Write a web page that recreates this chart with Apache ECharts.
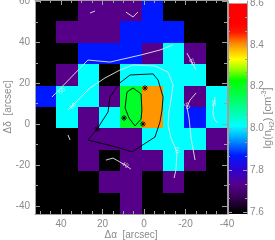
<!DOCTYPE html>
<html><head><meta charset="utf-8">
<script src="https://cdn.jsdelivr.net/npm/echarts@6/dist/echarts.min.js"></script>
<style>html,body{margin:0;padding:0;background:#fff;}#c{width:275px;height:240px;}</style>
</head><body><div id="c"></div>
<script>
// ---------- data ----------
const xCenters = [47.4, 37.1, 26.8, 16.5, 6.3, -4.0, -14.3, -24.6, -34.9];
const yCenters = [55.6, 45.1, 34.6, 24.1, 13.6, 3.2, -7.3, -17.8, -28.3, -38.8];
const lgN = [
  [7.60, 7.60, 7.73, 7.73, 7.73, 7.87, 7.60, 7.60, 7.60],
  [7.60, 7.73, 7.73, 7.73, 7.87, 7.87, 7.87, 7.60, 7.60],
  [7.60, 7.60, 7.87, 7.87, 7.87, 7.73, 8.01, 7.73, 7.60],
  [7.60, 7.73, 8.01, 7.60, 8.01, 8.01, 8.01, 8.01, 7.60],
  [7.87, 8.01, 8.01, 7.73, 8.19, 8.40, 8.01, 7.73, 8.01],
  [7.60, 8.01, 7.73, 8.01, 8.19, 8.40, 8.01, 7.87, 8.01],
  [7.60, 7.60, 7.73, 7.73, 7.73, 8.01, 8.01, 8.01, 7.73],
  [7.60, 7.60, 7.73, 7.60, 7.73, 7.73, 8.01, 7.73, 7.60],
  [7.60, 7.60, 7.60, 7.73, 7.73, 7.60, 7.73, 7.60, 7.60],
  [7.60, 7.60, 7.60, 7.60, 7.73, 7.60, 7.60, 7.60, 7.60]
];
const xTicks = [40, 20, 0, -20, -40];
const xMinorTicks = [50, 45, 35, 30, 25, 15, 10, 5, -5, -10, -15, -25, -30, -35];
const yTicks = [60, 40, 20, 0, -20, -40];
const yMinorTicks = [50, 30, 10, -10, -30];
const cbTicks = [7.6, 7.8, 8.0, 8.2, 8.4, 8.6];
const cbMinorTicks = [7.667, 7.733, 7.867, 7.933, 8.067, 8.133, 8.267, 8.333, 8.467, 8.533];
const cbRange = [7.59, 8.61];
const xName = 'Δα  [arcsec]';
const yName = 'Δδ  [arcsec]';

const whiteContours = [
  [[44.3,13.3],[27.0,31.4],[16.4,30.4],[1.4,33.9],[-7.7,36.3],[-14.0,38.8]],
  [[36.6,6.9],[26.0,17.7],[18.8,22.6],[11.6,26.5],[5.3,29.0],[-5.3,28.5],[-11.6,25.5],[-14.0,19.2],[-13.0,11.8],[-12.0,6.0],[-11.6,-0.4],[-13.0,-6.8],[-15.9,-13.6],[-15.4,-22.4],[-14.5,-26.4]],
  [[-20.7,34.8],[-25.1,26.5]],
  [[-25.1,15.3],[-22.2,11.8],[-20.7,8.4],[-21.7,3.0],[-22.7,-6.8],[-24.6,-17.6]],
  [[-34.2,13.3],[-33.3,6.9],[-33.3,4.5],[-34.2,2.0],[-35.7,0.6]],
  [[36.6,-5.3],[35.6,-7.8]],
  [[18.3,-17.6],[14.9,-16.6],[9.1,-20.0],[6.3,-22.0]],
  [[26.0,54.4],[23.6,55.4]],
  [[8.7,54.9],[5.3,52.5],[2.9,54.9]]
];
const blackContours = [
  [[22.6,-2.4],[17.3,6.0],[16.4,13.3],[11.6,20.2],[6.7,24.1],[-4.4,24.6],[-6.8,21.6],[-9.2,13.3],[-8.7,6.9],[-7.7,1.0],[-5.3,-6.3],[5.8,-13.6],[11.6,-11.7],[21.2,-9.2],[27.0,-7.8],[22.6,-2.4]],
  [[8.2,15.7],[5.3,17.7],[1.4,14.8],[1.0,6.9],[1.4,2.5],[4.3,-0.9],[7.2,3.0],[9.1,7.9],[8.2,15.7]]
];
const stars = [[-0.5,17.7],[9.6,3.0],[0.5,0.1],[22.6,-2.4]];
const contourLabelText = ['50','60','50','50','50','60','40'];
const contourLabelPos = [[39.5,16.2],[34.2,8.9],[-23.1,30.4],[-20.7,8.9],[-33.7,10.4],[-15.9,-12.7],[9.1,-20.0]];

// ---------- styles ----------
const contourLabelRot = [45, 45, -65, -60, 90, -80, -30];
const HW = 5.14, HH = 5.24;
const cmapStops = [
  [7.59,[0,0,0]],[7.60,[0,0,0]],[7.66,[48,0,74]],[7.73,[86,0,138]],[7.80,[48,0,208]],
  [7.87,[0,24,255]],[7.94,[0,144,255]],[8.01,[0,255,255]],[8.10,[0,255,144]],
  [8.19,[0,255,40]],[8.23,[0,255,0]],[8.28,[144,255,0]],[8.33,[255,255,0]],
  [8.40,[255,150,0]],[8.46,[255,24,0]],[8.50,[255,0,0]],[8.597,[255,0,0]],
  [8.599,[255,255,255]],[8.61,[255,255,255]]
];
function cmap(v){
  if (v <= cmapStops[0][0]) return rgb(cmapStops[0][1]);
  for (let k = 1; k < cmapStops.length; k++){
    if (v <= cmapStops[k][0]){
      const [v0,c0] = cmapStops[k-1], [v1,c1] = cmapStops[k];
      const t = (v - v0) / (v1 - v0);
      return rgb(c0.map((c,i)=>c + (c1[i]-c)*t));
    }
  }
  return rgb(cmapStops[cmapStops.length-1][1]);
}
function rgb(c){ return 'rgb(' + c.map(Math.round).join(',') + ')'; }

const FONT = 'Liberation Sans';
const GRAY = '#8a8a8a';
const LINE = '#a0a0a0';

const cellData = [];
lgN.forEach((row, j) => row.forEach((v, i) => cellData.push([xCenters[i], yCenters[j], v])));

function ax(ext, pos, opts){
  const showLine = !!opts.line;
  return Object.assign({
    type: 'value', z: 10, position: pos, splitLine: {show: false},
    axisLine: {show: showLine, onZero: false, lineStyle: {color: LINE, width: 1}},
    axisTick: {show: true, inside: true, length: opts.len, customValues: opts.ticks, lineStyle: {color: LINE}},
    axisLabel: opts.labels ? Object.assign({show: true, fontSize: 10, color: GRAY, fontFamily: FONT, customValues: opts.ticks, margin: opts.margin}, opts.fmt ? {formatter: opts.fmt} : {}) : {show: false}
  }, ext);
}
const xExt = {min: -40, max: 52.5, inverse: true, gridIndex: 0};
const yExt = {min: -44, max: 60.8, gridIndex: 0};
const cbExt = {min: cbRange[0], max: cbRange[1], gridIndex: 1};

const xAxes = [
  ax(xExt, 'bottom', {line: true, len: 5, ticks: xTicks, labels: true, margin: 5}),
  ax(xExt, 'bottom', {len: 3, ticks: xMinorTicks}),
  ax(xExt, 'top', {line: true, len: 5, ticks: xTicks}),
  ax(xExt, 'top', {len: 3, ticks: xMinorTicks}),
  {type: 'value', gridIndex: 1, min: 0, max: 1, show: false}
];
const yAxes = [
  ax(yExt, 'left', {line: true, len: 5, ticks: yTicks, labels: true, margin: 5}),
  ax(yExt, 'left', {len: 3, ticks: yMinorTicks}),
  ax(yExt, 'right', {line: true, len: 5, ticks: yTicks}),
  ax(yExt, 'right', {len: 3, ticks: yMinorTicks}),
  ax(cbExt, 'right', {line: true, len: 4, ticks: cbTicks, labels: true, margin: 3, fmt: v => (+v).toFixed(1)}),
  ax(cbExt, 'right', {len: 2, ticks: cbMinorTicks}),
  ax(cbExt, 'left', {line: true, len: 4, ticks: cbTicks}),
  ax(cbExt, 'left', {len: 2, ticks: cbMinorTicks})
];

const series = [];
series.push({
  type: 'custom', xAxisIndex: 0, yAxisIndex: 0, z: 1, clip: true,
  data: cellData, encode: {x: 0, y: 1},
  renderItem(params, api){
    const x = api.value(0), y = api.value(1), v = api.value(2);
    const p1 = api.coord([x + HW, y + HH]);
    const p2 = api.coord([x - HW, y - HH]);
    const x0 = Math.round(Math.min(p1[0], p2[0])), x1 = Math.round(Math.max(p1[0], p2[0]));
    const y0 = Math.round(Math.min(p1[1], p2[1])), y1 = Math.round(Math.max(p1[1], p2[1]));
    return {type: 'rect', shape: {x: x0, y: y0, width: x1 - x0, height: y1 - y0}, style: {fill: cmap(v)}};
  }
});
const gradStops = cmapStops.map(s => ({offset: (s[0] - cbRange[0]) / (cbRange[1] - cbRange[0]), color: rgb(s[1])}));
series.push({
  type: 'custom', xAxisIndex: 4, yAxisIndex: 4, z: 1,
  data: [[0, cbRange[0], 1, cbRange[1]]], encode: {x: [0, 2], y: [1, 3]},
  renderItem(params, api){
    const p1 = api.coord([api.value(0), api.value(3)]);
    const p2 = api.coord([api.value(2), api.value(1)]);
    return {type: 'rect', shape: {x: p1[0], y: p1[1], width: p2[0] - p1[0], height: p2[1] - p1[1]},
      style: {fill: {type: 'linear', x: 0, y: 1, x2: 0, y2: 0, colorStops: gradStops}}};
  }
});
whiteContours.forEach(c => series.push({
  type: 'line', xAxisIndex: 0, yAxisIndex: 0, z: 3, data: c, showSymbol: false, symbol: 'none',
  lineStyle: {color: '#e8e8e8', width: 0.9}, silent: true, animation: false
}));
blackContours.forEach(c => series.push({
  type: 'line', xAxisIndex: 0, yAxisIndex: 0, z: 3, data: c, showSymbol: false, symbol: 'none',
  lineStyle: {color: '#000', width: 0.9}, silent: true, animation: false
}));
series.push({
  type: 'scatter', xAxisIndex: 0, yAxisIndex: 0, z: 4, data: stars, symbolSize: 2.5,
  symbol: 'circle', itemStyle: {color: '#9a1050'}, animation: false
});
series.push({
  type: 'scatter', xAxisIndex: 0, yAxisIndex: 0, z: 5, data: stars, symbolSize: 6,
  symbol: 'path://M0,-5L0,5M-5,0L5,0M-3.5,-3.5L3.5,3.5M-3.5,3.5L3.5,-3.5',
  itemStyle: {color: 'transparent', borderColor: '#000', borderWidth: 1}, animation: false
});
series.push({
  type: 'scatter', xAxisIndex: 0, yAxisIndex: 0, z: 6, symbolSize: 0, animation: false,
  data: contourLabelPos.map((p, k) => ({value: p, label: {show: true, position: 'inside', formatter: contourLabelText[k],
    rotate: contourLabelRot[k], fontSize: 6, color: '#f0f0f0', fontFamily: FONT}}))
});

const chart = echarts.init(document.getElementById('c'), null, {renderer: 'canvas'});
chart.setOption({
  animation: false,
  backgroundColor: '#fff',
  grid: [
    {left: 35, top: 0, width: 192, height: 214, containLabel: false, outerBoundsMode: 'none'},
    {left: 228, top: 1, width: 19, height: 213, containLabel: false, outerBoundsMode: 'none'}
  ],
  xAxis: xAxes,
  yAxis: yAxes,
  series: series,
  graphic: [
    {type: 'text', x: 131, y: 235, style: {text: xName, align: 'center', verticalAlign: 'middle', fontSize: 10, fill: GRAY, fontFamily: FONT}},
    {type: 'text', x: 8, y: 107, rotation: Math.PI / 2, style: {text: yName, align: 'center', verticalAlign: 'middle', fontSize: 10, fill: GRAY, fontFamily: FONT}},
    {
      type: 'text', x: 268, y: 118, rotation: Math.PI / 2,
      style: {
        text: 'lg(n{sub|H2}) [cm{sup|-3}]', align: 'center', verticalAlign: 'middle',
        fontSize: 11, fill: GRAY, fontFamily: FONT, lineHeight: 15,
        rich: {
          sub: {fontSize: 7, fill: GRAY, fontFamily: FONT, verticalAlign: 'bottom', lineHeight: 15},
          sup: {fontSize: 7, fill: GRAY, fontFamily: FONT, verticalAlign: 'top', lineHeight: 15}
        }
      }
    }
  ]
});
</script></body></html>
